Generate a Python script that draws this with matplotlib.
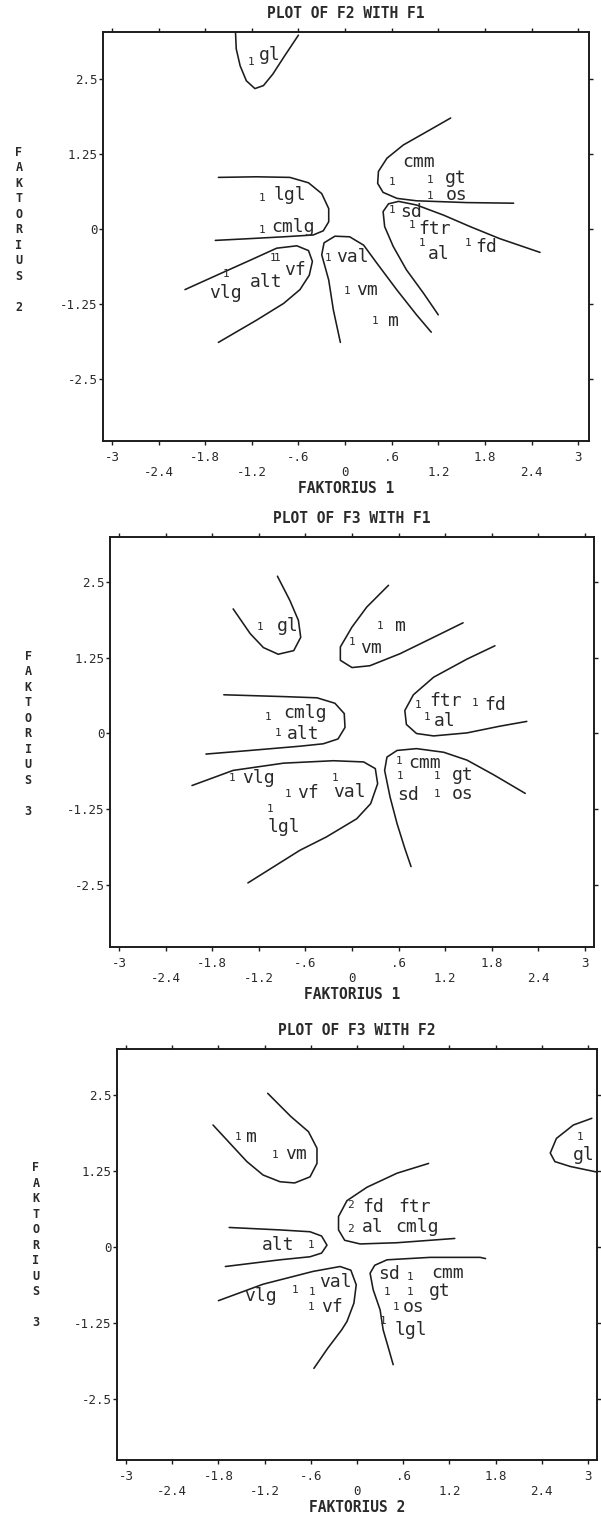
import matplotlib
matplotlib.use("Agg")
import matplotlib.pyplot as plt

MONO = "DejaVu Sans Mono"
plt.rcParams['font.family'] = [MONO, 'DejaVu Sans']

W, H = 601, 1514
LINE = "#1c1c1c"
TXT = "#2a2a2a"

# ---------------- axis ticks (shared) ----------------
x_ticks_row1 = [-3, -1.8, -0.6, 0.6, 1.8, 3]
x_labels_row1 = ["-3", "-1.8", "-.6", ".6", "1.8", "3"]
x_ticks_row2 = [-2.4, -1.2, 0, 1.2, 2.4]
x_labels_row2 = ["-2.4", "-1.2", "0", "1.2", "2.4"]
y_ticks = [2.5, 1.25, 0, -1.25, -2.5]
y_labels = ["2.5", "1.25", "0", "-1.25", "-2.5"]

titles = ["PLOT OF F2 WITH F1", "PLOT OF F3 WITH F1", "PLOT OF F3 WITH F2"]
x_titles = ["FAKTORIUS 1", "FAKTORIUS 1", "FAKTORIUS 2"]
y_titles = ["FAKTORIUS 2", "FAKTORIUS 3", "FAKTORIUS 3"]

# ---------------- panel 1 : F2 vs F1 ----------------
p1_words = ["gl", "lgl", "cmlg", "cmm", "gt", "os", "sd", "ftr", "al", "fd",
            "val", "vm", "m", "vlg", "alt", "vf"]
p1_word_x = [-0.97, -0.71, -0.67, 0.94, 1.42, 1.43, 0.85, 1.15, 1.21, 1.82,
             0.09, 0.28, 0.62, -1.54, -1.02, -0.64]
p1_word_y = [2.90, 0.57, 0.04, 1.12, 0.85, 0.57, 0.29, 0.00, -0.42, -0.30,
             -0.47, -1.02, -1.53, -1.07, -0.88, -0.68]
p1_mark = ["1"] * 16
p1_mark_x = [-1.21, -1.07, -1.07, 0.61, 1.09, 1.10, 0.61, 0.86, 0.99, 1.58,
             -0.22, 0.02, 0.39, -1.53, -0.92, -0.87]
p1_mark_y = [2.79, 0.51, -0.02, 0.79, 0.82, 0.55, 0.32, 0.07, -0.24, -0.24,
             -0.48, -1.03, -1.53, -0.75, -0.49, -0.49]
p1_curves_x = [
    [-1.41, -1.40, -1.35, -1.27, -1.16, -1.05, -0.93, -0.78, -0.60],
    [-1.63, -1.14, -0.71, -0.47, -0.30, -0.21, -0.21, -0.28, -0.41, -0.79, -1.22, -1.67],
    [-2.06, -1.65, -1.22, -0.88, -0.62, -0.47, -0.42, -0.46, -0.58, -0.79, -1.14, -1.63],
    [-0.06, -0.15, -0.21, -0.30, -0.27, -0.13, 0.06, 0.24, 0.41, 0.67, 0.92, 1.11],
    [1.20, 1.01, 0.79, 0.62, 0.51, 0.49, 0.56, 0.69, 0.92, 1.27, 1.61, 1.99, 2.51],
    [1.36, 1.09, 0.75, 0.54, 0.43, 0.42, 0.49, 0.67, 0.92, 1.57, 2.17],
]
p1_curves_y = [
    [3.29, 3.00, 2.72, 2.47, 2.34, 2.39, 2.58, 2.88, 3.23],
    [0.86, 0.87, 0.86, 0.77, 0.59, 0.34, 0.12, -0.03, -0.10, -0.13, -0.16, -0.19],
    [-1.01, -0.77, -0.52, -0.32, -0.28, -0.36, -0.54, -0.77, -1.01, -1.24, -1.52, -1.89],
    [-1.89, -1.35, -0.85, -0.43, -0.23, -0.12, -0.13, -0.27, -0.57, -1.02, -1.43, -1.72],
    [-1.43, -1.07, -0.68, -0.29, 0.04, 0.29, 0.42, 0.46, 0.40, 0.23, 0.04, -0.16, -0.39],
    [1.85, 1.65, 1.40, 1.18, 0.96, 0.76, 0.61, 0.51, 0.47, 0.44, 0.43],
]

# ---------------- panel 2 : F3 vs F1 ----------------
p2_words = ["gl", "m", "vm", "ftr", "fd", "al", "cmlg", "alt", "cmm", "gt",
            "sd", "os", "vlg", "vf", "val", "lgl"]
p2_word_x = [-0.83, 0.62, 0.25, 1.20, 1.84, 1.20, -0.60, -0.63, 0.94, 1.42,
             0.72, 1.42, -1.21, -0.56, -0.03, -0.88]
p2_word_y = [1.78, 1.77, 1.42, 0.54, 0.47, 0.21, 0.34, -0.01, -0.48, -0.69,
             -1.02, -1.00, -0.74, -0.98, -0.96, -1.54]
p2_mark = ["1"] * 16
p2_mark_x = [-1.18, 0.36, 0.00, 0.85, 1.58, 0.97, -1.08, -0.95, 0.61, 0.62,
             1.10, 1.10, -1.55, -0.82, -0.22, -1.05]
p2_mark_y = [1.76, 1.77, 1.52, 0.47, 0.50, 0.28, 0.28, 0.00, -0.45, -0.71,
             -0.71, -1.00, -0.74, -1.00, -0.74, -1.25]
p2_curves_x = [
    [-1.53, -1.31, -1.14, -0.95, -0.75, -0.66, -0.69, -0.80, -0.96],
    [0.47, 0.19, 0.00, -0.15, -0.15, 0.00, 0.23, 0.62, 1.05, 1.43],
    [1.84, 1.48, 1.05, 0.79, 0.68, 0.70, 0.83, 1.05, 1.48, 1.90, 2.25],
    [-1.65, -0.88, -0.45, -0.22, -0.10, -0.09, -0.18, -0.37, -0.67, -1.31, -1.88],
    [-2.06, -1.53, -0.88, -0.24, 0.15, 0.30, 0.33, 0.24, 0.06, -0.33, -0.67, -1.34],
    [0.76, 0.68, 0.58, 0.49, 0.42, 0.45, 0.58, 0.83, 1.18, 1.48, 1.82, 2.23],
]
p2_curves_y = [
    [2.06, 1.65, 1.42, 1.31, 1.37, 1.59, 1.87, 2.20, 2.60],
    [2.45, 2.09, 1.76, 1.43, 1.21, 1.09, 1.12, 1.32, 1.59, 1.83],
    [1.45, 1.23, 0.93, 0.64, 0.38, 0.15, 0.00, -0.04, 0.01, 0.12, 0.20],
    [0.64, 0.61, 0.59, 0.50, 0.33, 0.10, -0.09, -0.17, -0.21, -0.28, -0.34],
    [-0.86, -0.61, -0.49, -0.45, -0.47, -0.58, -0.83, -1.16, -1.41, -1.71, -1.93, -2.47],
    [-2.20, -1.90, -1.49, -1.05, -0.61, -0.39, -0.28, -0.25, -0.31, -0.44, -0.68, -0.99],
]

# ---------------- panel 3 : F3 vs F2 ----------------
p3_words = ["m", "vm", "fd", "ftr", "al", "cmlg", "alt", "sd", "cmm", "gt",
            "os", "lgl", "vlg", "val", "vf", "gl"]
p3_word_x = [-1.37, -0.79, 0.21, 0.75, 0.20, 0.78, -1.02, 0.41, 1.17, 1.08,
             0.73, 0.70, -1.25, -0.28, -0.33, 2.94]
p3_word_y = [1.80, 1.52, 0.66, 0.66, 0.33, 0.33, 0.03, -0.44, -0.42, -0.72,
             -0.98, -1.36, -0.80, -0.58, -0.98, 1.51]
p3_mark = ["1", "1", "2", "2", "1", "1", "1", "1", "1", "1", "1", "1", "1", "1"]
p3_mark_x = [-1.55, -1.07, -0.08, -0.08, -0.59, 0.69, 0.39, 0.69, 0.51, 0.34,
             -0.81, -0.58, -0.59, 2.90]
p3_mark_y = [1.80, 1.51, 0.69, 0.29, 0.03, -0.49, -0.73, -0.73, -0.98, -1.21,
             -0.70, -0.73, -0.98, 1.81]
p3_curves_x = [
    [-1.87, -1.65, -1.43, -1.22, -1.00, -0.81, -0.61, -0.52, -0.52, -0.63, -0.86, -1.16],
    [0.93, 0.52, 0.13, -0.13, -0.24, -0.24, -0.16, 0.04, 0.52, 1.27],
    [-1.66, -1.00, -0.61, -0.46, -0.39, -0.46, -0.61, -1.00, -1.71],
    [-1.80, -1.22, -0.57, -0.22, -0.08, -0.01, -0.04, -0.13, -0.20, -0.38, -0.56],
    [0.47, 0.40, 0.34, 0.30, 0.21, 0.17, 0.23, 0.39, 0.95, 1.60, 1.67],
    [3.05, 2.81, 2.59, 2.51, 2.57, 2.77, 3.11],
]
p3_curves_y = [
    [2.00, 1.70, 1.40, 1.18, 1.07, 1.05, 1.15, 1.37, 1.62, 1.89, 2.14, 2.52],
    [1.37, 1.21, 0.98, 0.76, 0.50, 0.28, 0.11, 0.05, 0.07, 0.14],
    [0.32, 0.28, 0.25, 0.18, 0.03, -0.10, -0.16, -0.21, -0.32],
    [-0.88, -0.61, -0.40, -0.32, -0.38, -0.62, -0.92, -1.22, -1.36, -1.66, -1.99],
    [-1.93, -1.62, -1.36, -1.03, -0.70, -0.43, -0.30, -0.21, -0.17, -0.17, -0.19],
    [2.11, 2.00, 1.78, 1.54, 1.40, 1.32, 1.23],
]

# ---------------- layout (pixel frames, limits) ----------------
frames_px = [(103, 589, 32, 441), (110, 594, 537, 947), (117, 597, 1049, 1460)]
xlims = [(-3.115, 3.14), (-3.115, 3.115), (-3.117, 3.117)]
ylims = [(-3.533, 3.283), (-3.529, 3.248), (-3.492, 3.246)]
ylab_pos = [(-0.173, 0.516), (-0.169, 0.52), (-0.169, 0.522)]

panels = [
    (p1_words, p1_word_x, p1_word_y, p1_mark, p1_mark_x, p1_mark_y, p1_curves_x, p1_curves_y),
    (p2_words, p2_word_x, p2_word_y, p2_mark, p2_mark_x, p2_mark_y, p2_curves_x, p2_curves_y),
    (p3_words, p3_word_x, p3_word_y, p3_mark, p3_mark_x, p3_mark_y, p3_curves_x, p3_curves_y),
]

fig = plt.figure(figsize=(W / 100, H / 100), dpi=100)
fig.patch.set_facecolor("white")

for i, (frame, xl, yl, data) in enumerate(zip(frames_px, xlims, ylims, panels)):
    words, wx, wy, marks, mx, my, cxs, cys = data
    l, r, t, b = frame
    ax = fig.add_axes([l / W, 1 - b / H, (r - l) / W, (b - t) / H])
    ax.set_xlim(*xl)
    ax.set_ylim(*yl)

    for cx, cy in zip(cxs, cys):
        ax.plot(cx, cy, color=LINE, lw=1.15, solid_joinstyle="round",
                solid_capstyle="round")
    for s, x, y in zip(words, wx, wy):
        ax.text(x, y, s, fontsize=13, ha="center", va="center", color=TXT)
    for s, x, y in zip(marks, mx, my):
        ax.text(x, y, s, fontsize=8, ha="center", va="center", color=TXT)

    ax.set_xticks(x_ticks_row1, x_labels_row1)
    ax.set_xticks(x_ticks_row2, x_labels_row2, minor=True)
    ax.set_yticks(y_ticks, y_labels)
    ax.tick_params(axis="x", which="both", direction="out", length=3, width=1,
                   top=True, bottom=True, labelsize=9, colors=LINE,
                   labelcolor=TXT)
    ax.tick_params(axis="x", which="major", pad=4.5)
    ax.tick_params(axis="x", which="minor", pad=15)
    ax.tick_params(axis="y", direction="out", length=3, width=1, left=True,
                   right=True, labelsize=9, pad=1, colors=LINE, labelcolor=TXT)
    for sp in ax.spines.values():
        sp.set_linewidth(1.4)
        sp.set_color(LINE)

    ax.text(0.5, 1.045, titles[i], transform=ax.transAxes, ha="center",
            va="center", fontsize=10.5, fontweight="bold", color=TXT)
    ax.text(0.5, -0.115, x_titles[i], transform=ax.transAxes, ha="center",
            va="center", fontsize=10.5, fontweight="bold", color=TXT)
    word, num = y_titles[i].split(" ")
    ax.text(ylab_pos[i][0], ylab_pos[i][1], "\n".join(list(word)) + "\n\n" + num,
            transform=ax.transAxes, ha="center", va="center", fontsize=8.5,
            fontweight="bold", linespacing=1.25, color=TXT)

fig.savefig("out.png", dpi=100, facecolor="white")
